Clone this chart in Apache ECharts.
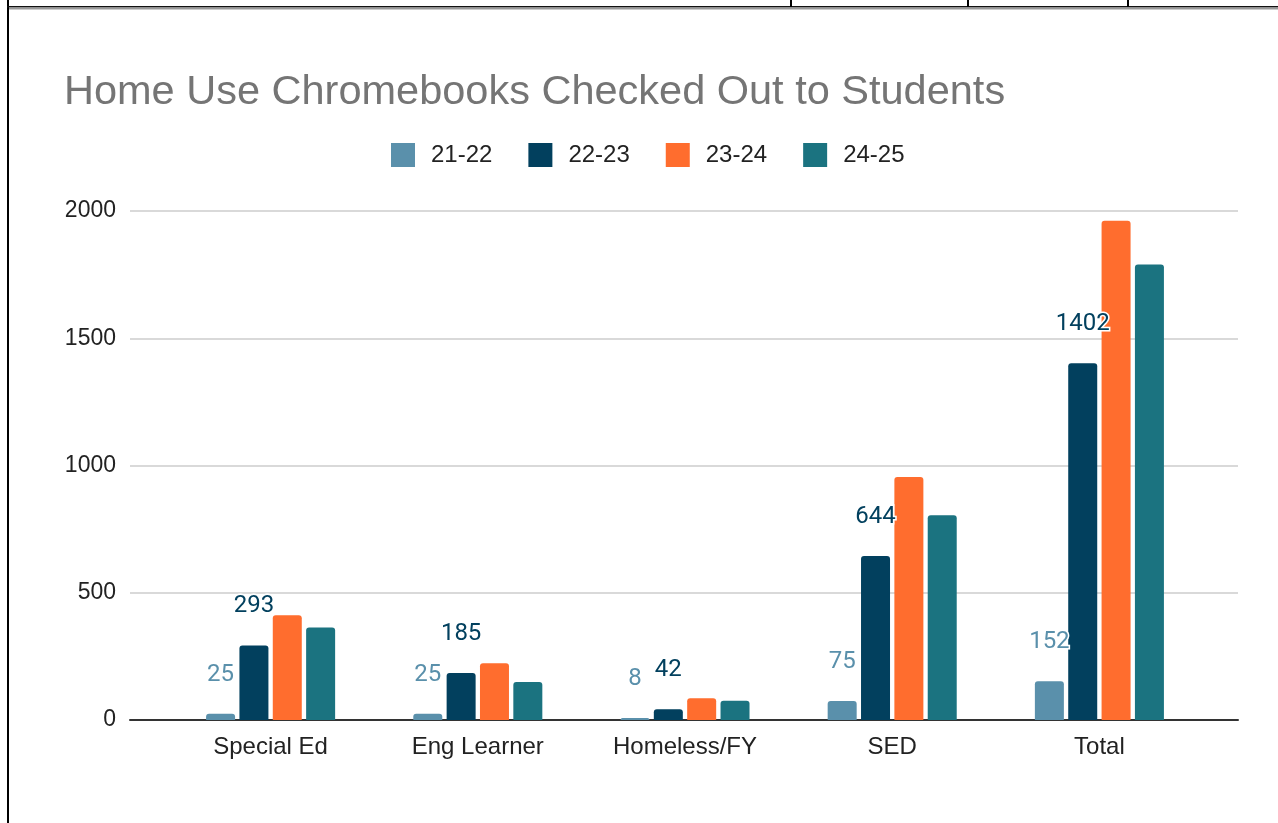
<!DOCTYPE html>
<html>
<head>
<meta charset="utf-8">
<script src="https://cdn.jsdelivr.net/npm/echarts@6/dist/echarts.min.js"></script>
<style>
  html, body { margin: 0; padding: 0; background: #fff; }
  #chart { width: 1278px; height: 823px; }
</style>
</head>
<body>
<div id="chart"></div>
<script>
// data
var categories = ['Special Ed', 'Eng Learner', 'Homeless/FY', 'SED', 'Total'];
var seriesNames = ['21-22', '22-23', '23-24', '24-25'];
var s2122 = [25, 25, 8, 75, 152];
var s2223 = [293, 185, 42, 644, 1402];
var s2324 = [412, 223, 85, 955, 1962];
var s2425 = [363, 149, 76, 805, 1790];
var yTicks = [0, 500, 1000, 1500, 2000];

var colors = ['#5a90ab', '#02405e', '#ff6d2e', '#1b7380'];
var seriesData = [s2122, s2223, s2324, s2425];
var labelled = [true, true, false, false];

var chart = echarts.init(document.getElementById('chart'));

var series = seriesNames.map(function (name, i) {
  return {
    name: name,
    type: 'bar',
    xAxisIndex: 1,
    yAxisIndex: 1,
    data: seriesData[i],
    barWidth: 29,
    barGap: '15%',
    itemStyle: { color: colors[i], borderRadius: [3, 3, 0, 0] },
    label: {
      show: labelled[i],
      position: 'top',
      distance: 27,
      fontFamily: 'Roboto',
      fontSize: 24,
      color: colors[i],
      textBorderColor: '#fff',
      textBorderWidth: 3
    }
  };
});

var option = {
  animation: false,
  title: {
    text: 'Home Use Chromebooks Checked Out to Students',
    left: 64,
    top: 72,
    padding: 0,
    textStyle: { fontFamily: 'Liberation Sans', fontSize: 41.5, fontWeight: 'normal', color: '#757575' }
  },
  legend: {
    data: seriesNames,
    left: 391,
    top: 143,
    padding: 0,
    itemWidth: 24,
    itemHeight: 24,
    itemGap: 36,
    icon: 'rect',
    textStyle: { fontFamily: 'Liberation Sans', fontSize: 24, color: '#222', padding: [0, 0, 0, 11] }
  },
  grid: [
    { left: 130, right: 40, top: 211, bottom: 103 },
    { left: 167, right: 75, top: 211, bottom: 103 }
  ],
  xAxis: [
    {
      gridIndex: 0, type: 'value', min: 0, max: 1,
      axisLine: { show: true, lineStyle: { color: '#333', width: 2 } },
      axisTick: { show: false }, axisLabel: { show: false }, splitLine: { show: false }
    },
    {
      gridIndex: 1, type: 'category', data: categories,
      axisLine: { show: false }, axisTick: { show: false },
      axisLabel: { fontFamily: 'Liberation Sans', fontSize: 24, color: '#222', margin: 15 }
    }
  ],
  yAxis: [
    {
      gridIndex: 0, type: 'value', min: yTicks[0], max: yTicks[yTicks.length - 1], interval: 500,
      axisLine: { show: false }, axisTick: { show: false },
      axisLabel: {
        fontFamily: 'Liberation Sans', fontSize: 23, color: '#222', margin: 14,
        formatter: function (v) { return String(v); }
      },
      splitLine: { lineStyle: { color: '#cccccc', width: 1.5 } }
    },
    {
      gridIndex: 1, type: 'value', min: yTicks[0], max: yTicks[yTicks.length - 1], interval: 500,
      show: false
    }
  ],
  graphic: [
    { type: 'rect', shape: { x: 7, y: 0, width: 2, height: 823 }, style: { fill: '#000' } },
    { type: 'rect', shape: { x: 7, y: 6, width: 1271, height: 1.5 }, style: { fill: '#111' } },
    { type: 'rect', shape: { x: 9, y: 7.5, width: 1269, height: 2 }, style: { fill: '#999' } },
    { type: 'rect', shape: { x: 790, y: 0, width: 2, height: 7 }, style: { fill: '#000' } },
    { type: 'rect', shape: { x: 967, y: 0, width: 2, height: 7 }, style: { fill: '#000' } },
    { type: 'rect', shape: { x: 1127, y: 0, width: 2, height: 7 }, style: { fill: '#000' } }
  ],
  series: series
};

chart.setOption(option);
</script>
</body>
</html>
